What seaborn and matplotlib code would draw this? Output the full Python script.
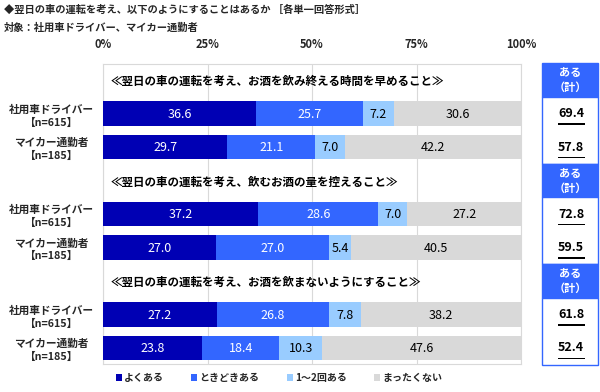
import matplotlib
matplotlib.use("Agg")
import matplotlib.pyplot as plt
from matplotlib.patches import Rectangle, Patch
import seaborn as sns
import pandas as pd
import numpy as np

sns.set_theme(style="white")
plt.rcParams['font.family'] = ['Noto Sans CJK JP', 'DejaVu Sans']

# ---- data ----
title1 = "◆翌日の車の運転を考え、以下のようにすることはあるか ［各単一回答形式］"
title2 = "対象：社用車ドライバー、マイカー通勤者"
questions = [
    "≪翌日の車の運転を考え、お酒を飲み終える時間を早めること≫",
    "≪翌日の車の運転を考え、飲むお酒の量を控えること≫",
    "≪翌日の車の運転を考え、お酒を飲まないようにすること≫",
]
groups = ["社用車ドライバー\n【n=615】", "マイカー通勤者\n【n=185】"]
series = ["よくある", "ときどきある", "1～2回ある", "まったくない"]
colors = ["#0000B4", "#3366FF", "#99CCFF", "#D9D9D9"]
text_colors = ["white", "white", "black", "black"]

yoku = [36.6, 29.7, 37.2, 27.0, 27.2, 23.8]
tokidoki = [25.7, 21.1, 28.6, 27.0, 26.8, 18.4]
ikkai = [7.2, 7.0, 7.0, 5.4, 7.8, 10.3]
mattaku = [30.6, 42.2, 27.2, 40.5, 38.2, 47.6]
aru_total = [69.4, 57.8, 72.8, 59.5, 61.8, 52.4]
ticks = [0, 25, 50, 75, 100]
tick_labels = ["0%", "25%", "50%", "75%", "100%"]

# ---- table ----
order = []
ylabels = []
for qi in range(3):
    order += [f"h{qi}", f"d{qi}", f"c{qi}"]
    ylabels += ["", groups[0], groups[1]]
rows = [f"{k}{qi}" for qi in range(3) for k in ("d", "c")]
vals = np.array([yoku, tokidoki, ikkai, mattaku])  # shape 4 x 6
cum = np.cumsum(vals, axis=0)
df = pd.DataFrame({"row": rows})
for i, s in enumerate(series):
    df[s] = vals[i]
    df["cum_" + s] = cum[i]

fig = plt.figure(figsize=(6, 3.92), dpi=100)
ax = fig.add_axes([103 / 600, 1 - 364 / 392, 418 / 600, 300 / 392])

for i in reversed(range(4)):
    sns.barplot(data=df, x="cum_" + series[i], y="row", order=order,
                color=colors[i], width=0.72, orient="h", ax=ax,
                saturation=1, linewidth=0, zorder=3)

# value labels
pos = {r: order.index(r) for r in rows}
for j, r in enumerate(rows):
    for i in range(4):
        v = vals[i, j]
        left = cum[i, j] - v
        ax.text(left + v / 2, pos[r] + 0.02, f"{v:.1f}", ha="center", va="center",
                color=text_colors[i], fontsize=9, zorder=5)

# question headers
for qi in range(3):
    ax.text(1.9, order.index(f"h{qi}") + 0.05, questions[qi], ha="left", va="center",
            fontsize=8.3, fontweight="bold", color="black")

ax.set_xlim(0, 100)
ax.set_ylim(8.478, -0.478)
ax.set_xticks(ticks)
ax.set_xticklabels(tick_labels, fontsize=8, fontweight="bold")
ax.xaxis.tick_top()
ax.tick_params(axis="x", length=0, pad=9)
ax.set_xlabel("")
ax.set_ylabel("")
ax.set_yticks(range(len(order)))
ax.set_yticklabels(ylabels, fontsize=7.7, fontweight="bold", linespacing=1.35)
for t in ax.get_yticklabels():
    t.set_horizontalalignment("center")
    t.set_multialignment("center")
ax.tick_params(axis="y", length=0, pad=37)
ax.set_yticks([k + 0.5 for k in range(len(order) - 1)], minor=True)
ax.tick_params(axis="y", which="minor", direction="in", length=4, color="#D9D9D9", width=1)
ax.grid(axis="x", color="#D9D9D9", linewidth=0.8, zorder=0)
ax.grid(axis="y", visible=False)
ax.set_axisbelow(True)
for sp in ax.spines.values():
    sp.set_color("#D9D9D9")
    sp.set_linewidth(0.8)

# side "ある（計）" boxes
ax2 = fig.add_axes([542 / 600, 1 - 364 / 392, 56 / 600, 300 / 392])
ax2.set_xlim(0, 1)
ax2.set_ylim(8.478, -0.478)
ax2.set_axis_off()
for qi in range(3):
    top = 3 * qi - 0.5
    ax2.add_patch(Rectangle((0, top), 1, 1.0, facecolor="#3366FF", edgecolor="#3366FF",
                            lw=1, clip_on=False, zorder=1))
    ax2.add_patch(Rectangle((0, top + 1.0), 1, 2.0, facecolor="white", edgecolor="#3366FF",
                            lw=1, clip_on=False, zorder=1))
    ax2.text(0.5, 3 * qi + 0.0, "ある\n（計）", ha="center", va="center", color="white",
             fontsize=8, fontweight="bold", linespacing=1.2, zorder=4)
for j, r in enumerate(rows):
    y = pos[r]
    ax2.text(0.52, y + 0.0, f"{aru_total[j]:.1f}", ha="center", va="center",
             fontsize=9, fontweight="bold", color="black", zorder=4)
    # underline
    ax2.add_patch(Rectangle((0.28, y + 0.29), 0.48, 0.045, facecolor="black",
                            edgecolor="none", zorder=6))

# titles
fig.text(4 / 600, 1 - 10 / 392, title1, ha="left", va="center", fontsize=7.4, fontweight="bold")
fig.text(4 / 600, 1 - 28 / 392, title2, ha="left", va="center", fontsize=7.4, fontweight="bold")

# legend
handles = [Patch(facecolor=c, edgecolor="none") for c in colors]
fig.legend(handles, series, loc="center", bbox_to_anchor=(279 / 600, 1 - 378 / 392), ncol=4,
           frameon=False, handlelength=0.6, handleheight=0.6, handletextpad=0.25,
           columnspacing=2.7, prop={"size": 7.2, "weight": "bold"})

fig.savefig("out.png", dpi=100)
